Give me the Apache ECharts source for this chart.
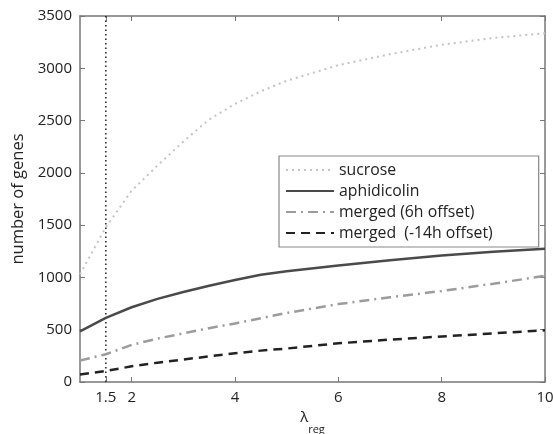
<!DOCTYPE html>
<html>
<head>
<meta charset="utf-8">
<script src="https://cdn.jsdelivr.net/npm/echarts@6/dist/echarts.min.js"></script>
<style>
  html, body { margin: 0; padding: 0; background: #fff; }
  #chart { width: 553px; height: 434px; }
</style>
</head>
<body>
<div id="chart"></div>
<script>
// Regularisation parameter values (x) and gene counts per dataset
const lambdaReg = [1, 1.5, 2, 2.5, 3, 3.5, 4, 4.5, 5, 6, 7, 8, 9, 10];
const sucrose = [1030, 1480, 1830, 2070, 2300, 2510, 2660, 2780, 2880, 3030, 3135, 3225, 3290, 3335];
const aphidicolin = [485, 614, 715, 795, 860, 920, 975, 1025, 1060, 1115, 1165, 1210, 1245, 1275];
const merged6h = [205, 265, 355, 415, 465, 515, 560, 610, 660, 745, 810, 870, 940, 1015];
const mergedMinus14h = [72, 105, 150, 185, 215, 245, 275, 300, 320, 370, 405, 435, 465, 495];
const chosenLambda = 1.5;
const xTicks = [1.5, 2, 4, 6, 8, 10];
const seriesNames = ['sucrose', 'aphidicolin', 'merged (6h offset)', 'merged  (-14h offset)'];

const pair = ys => lambdaReg.map((x, i) => [x, ys[i]]);
const FONT = '"Open Sans", "DejaVu Sans", sans-serif';
const AXIS_COLOR = '#777';

const chart = echarts.init(document.getElementById('chart'), null, { renderer: 'canvas' });

const xCommon = {
  type: 'value', min: 1, max: 10,
  axisLine: { show: true, onZero: false, lineStyle: { color: AXIS_COLOR, width: 1.5 } },
  axisTick: {
    show: true, inside: true, length: 5,
    customValues: xTicks, lineStyle: { color: AXIS_COLOR, width: 1 }
  },
  splitLine: { show: false }
};
const yCommon = {
  type: 'value', min: 0, max: 3500, interval: 500,
  axisLine: { show: true, onZero: false, lineStyle: { color: AXIS_COLOR, width: 1.5 } },
  axisTick: { show: true, inside: true, length: 5, lineStyle: { color: AXIS_COLOR, width: 1 } },
  splitLine: { show: false }
};

function lineSeries(name, ys, color, width, type) {
  return {
    name, type: 'line', data: pair(ys),
    symbol: 'none', smooth: false, z: 3,
    lineStyle: { color, width, type },
    itemStyle: { color }
  };
}

chart.setOption({
  animation: false,
  backgroundColor: '#fff',
  grid: {
    left: 80, top: 16, right: 8, bottom: 52,
    containLabel: false, outerBoundsMode: 'none'
  },
  legend: {
    show: true,
    orient: 'vertical',
    left: 279, top: 156,
    padding: [6, 46, 6, 6],
    itemGap: 5,
    itemWidth: 48, itemHeight: 16,
    backgroundColor: '#fff',
    borderColor: '#888', borderWidth: 1.2,
    // only the line sample is shown for each entry
    itemStyle: { color: 'rgba(0,0,0,0)', borderColor: 'rgba(0,0,0,0)', borderWidth: 0 },
    textStyle: { fontFamily: FONT, fontSize: 15.8, color: '#222' },
    data: seriesNames,
    selectedMode: false,
    z: 10
  },
  xAxis: [
    Object.assign({}, xCommon, {
      position: 'bottom',
      name: '{l|λ}{s|reg}',
      nameLocation: 'middle',
      nameGap: 21,
      nameTextStyle: {
        rich: {
          l: { fontFamily: FONT, fontSize: 15, color: '#222', padding: [0, 0, 10, 0] },
          s: { fontFamily: FONT, fontSize: 11, color: '#222', padding: [14, 0, 0, 0] }
        }
      },
      axisLabel: {
        show: true, customValues: xTicks, margin: 8,
        fontFamily: FONT, fontSize: 15, color: '#222',
        formatter: v => String(v)
      }
    }),
    Object.assign({}, xCommon, { position: 'top', axisLabel: { show: false } })
  ],
  yAxis: [
    Object.assign({}, yCommon, {
      position: 'left',
      name: 'number of genes',
      nameLocation: 'middle',
      nameGap: 52,
      nameTextStyle: { fontFamily: FONT, fontSize: 16.5, color: '#222' },
      axisLabel: {
        show: true, margin: 8, fontFamily: FONT, fontSize: 15, color: '#222',
        formatter: v => String(v)
      }
    }),
    Object.assign({}, yCommon, { position: 'right', axisLabel: { show: false } })
  ],
  series: [
    lineSeries(seriesNames[0], sucrose, '#c4c4c4', 2, [2, 4]),
    lineSeries(seriesNames[1], aphidicolin, '#4a4a4a', 2.5, 'solid'),
    lineSeries(seriesNames[2], merged6h, '#9c9c9c', 2.5, [10, 5, 2, 5]),
    lineSeries(seriesNames[3], mergedMinus14h, '#222', 2.5, [9, 6]),
    {
      // chosen regularisation level
      name: 'chosen', type: 'line',
      data: [[chosenLambda, 0], [chosenLambda, 3500]],
      symbol: 'none', silent: true, z: 2,
      lineStyle: { color: '#222', width: 1.5, type: [1.5, 3] }
    }
  ]
});
</script>
</body>
</html>
